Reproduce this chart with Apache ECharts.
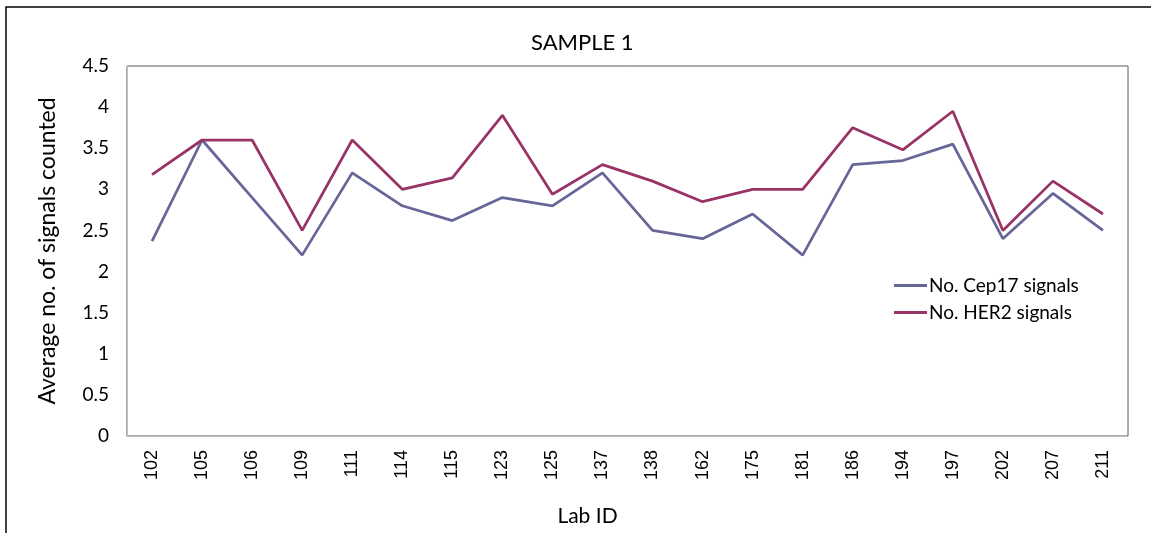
<!DOCTYPE html>
<html>
<head>
<meta charset="utf-8">
<script src="https://cdn.jsdelivr.net/npm/echarts@6/dist/echarts.min.js"></script>
<style>html,body{margin:0;padding:0;background:#fff;}#c{width:1151px;height:533px;}</style>
</head>
<body>
<div id="c"></div>
<script>
const labIds = ['102','105','106','109','111','114','115','123','125','137','138','162','175','181','186','194','197','202','207','211'];
const cep17 = [2.37,3.6,2.9,2.2,3.2,2.8,2.62,2.9,2.8,3.2,2.5,2.4,2.7,2.2,3.3,3.35,3.55,2.4,2.95,2.5];
const her2 = [3.18,3.6,3.6,2.5,3.6,3.0,3.14,3.9,2.94,3.3,3.1,2.85,3.0,3.0,3.75,3.48,3.95,2.5,3.1,2.7];
const seriesNames = ['No. Cep17 signals','No. HER2 signals'];

const FONT = 'Lato, "Open Sans", sans-serif';
const chart = echarts.init(document.getElementById('c'), null, {renderer:'canvas'});
chart.setOption({
  animation:false,
  backgroundColor:'#fff',
  title:{text:'SAMPLE 1', left:526, top:27, textStyle:{fontFamily:FONT, fontSize:22, fontWeight:'normal', color:'#000'}},
  graphic:[{type:'rect', shape:{x:6,y:7,width:1300,height:700}, style:{fill:'none', stroke:'#000', lineWidth:1.5}, silent:true}],
  grid:{left:127, right:23, top:66, bottom:97, show:true, borderColor:'#595959', borderWidth:1},
  legend:{orient:'vertical', left:889, top:271, itemWidth:33, itemHeight:3, itemGap:8,
    icon:'rect',
    textStyle:{fontFamily:FONT, fontSize:19, color:'#000', padding:[0,0,0,-3]},
    data:seriesNames},
  xAxis:{type:'category', data:labIds, boundaryGap:true,
    name:'Lab ID', nameLocation:'middle', nameGap:70,
    nameTextStyle:{fontFamily:FONT, fontSize:21, color:'#000', padding:[0,80,0,0]},
    axisLine:{lineStyle:{color:'#bfbfbf', width:1}}, axisTick:{show:false},
    axisLabel:{rotate:90, margin:14, fontFamily:'"Liberation Sans", Arial, sans-serif', fontSize:18, color:'#000', interval:0}},
  yAxis:{type:'value', min:0, max:4.5, interval:0.5,
    name:'Average no. of signals counted', nameLocation:'middle', nameGap:68,
    nameTextStyle:{fontFamily:FONT, fontSize:23, color:'#000'},
    axisLine:{show:true, lineStyle:{color:'#bfbfbf', width:1}}, axisTick:{show:false},
    splitLine:{show:false},
    axisLabel:{margin:18, fontFamily:FONT, fontSize:19, color:'#000'}},
  series:[
    {name:seriesNames[0], type:'line', data:cep17, symbol:'none', lineStyle:{color:'#666699', width:2.75}, itemStyle:{color:'#666699'}},
    {name:seriesNames[1], type:'line', data:her2, symbol:'none', lineStyle:{color:'#993366', width:2.75}, itemStyle:{color:'#993366'}}
  ]
});
</script>
</body>
</html>
